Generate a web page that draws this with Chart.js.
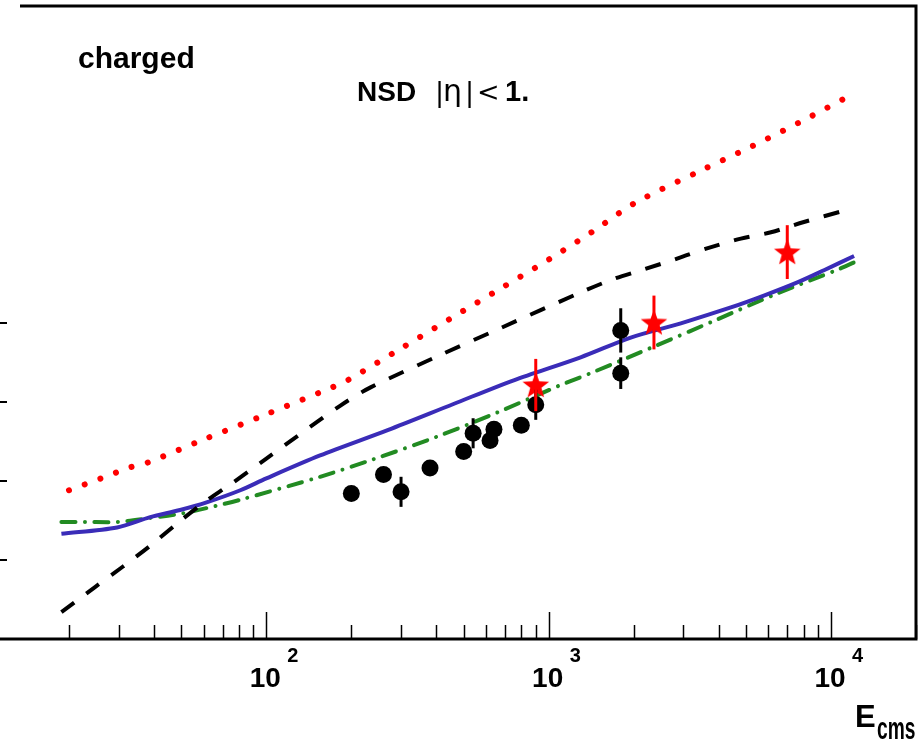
<!DOCTYPE html>
<html>
<head>
<meta charset="utf-8">
<script src="https://cdn.jsdelivr.net/npm/chart.js@4.4.1/dist/chart.umd.min.js"></script>
<style>
  html, body { margin: 0; padding: 0; background: #ffffff; overflow: hidden; }
  #wrap { position: relative; width: 923px; height: 747px; overflow: hidden; }
  #id-mult-chart { position: absolute; left: -40px; top: 0; }
</style>
</head>
<body>
<div id="wrap"><canvas id="id-mult-chart" width="963" height="747"></canvas></div>
<script>
//#region [Data: dN/deta of charged particles vs. centre-of-mass energy.]
// measured points (black circles)
const meas_energy = [200, 260, 300, 380, 500, 540, 620, 640, 800, 900, 1800, 1800];
const meas_mult   = [2.84, 3.08, 2.86, 3.16, 3.37, 3.60, 3.51, 3.65, 3.70, 3.96, 4.90, 4.36];
const meas_err    = [0, 0, 0.19, 0, 0, 0.19, 0, 0, 0, 0.19, 0.28, 0.20];

// LHC points (red stars)
const lhc_energy = [900, 2360, 7000];
const lhc_mult   = [4.21, 5.00, 5.89];
const lhc_err    = [0.33, 0.34, 0.34];

// model curves
const dotted_energy = [20, 26, 33, 38, 58, 100, 171, 194, 299, 449, 676, 1016, 1432, 2019, 3458, 5200, 7834, 11300];
const dotted_mult   = [2.88, 3.03, 3.17, 3.23, 3.50, 3.84, 4.18, 4.27, 4.67, 5.05, 5.43, 5.81, 6.15, 6.51, 6.92, 7.22, 7.54, 7.84];

const dashed_energy = [18.8, 24.8, 30.9, 38.5, 48.3, 59.8, 75.7, 100, 183, 234, 414, 676, 1298, 1698, 2171, 2866, 3662, 4796, 6127, 8017, 11300];
const dashed_mult   = [1.34, 1.66, 1.91, 2.17, 2.46, 2.72, 2.97, 3.28, 3.95, 4.18, 4.59, 4.93, 5.38, 5.55, 5.67, 5.81, 5.94, 6.06, 6.14, 6.27, 6.42];

const solid_energy = [18.8, 29.6, 38.8, 49.5, 61.8, 80.9, 100, 155, 269, 460, 752, 1298, 1953, 2938, 4419, 5784, 7636, 9442, 12070];
const solid_mult   = [2.33, 2.41, 2.54, 2.63, 2.73, 2.88, 3.03, 3.32, 3.64, 3.97, 4.27, 4.56, 4.81, 4.99, 5.19, 5.34, 5.51, 5.66, 5.84];

const dashdot_energy = [18.8, 22.9, 29.8, 38.8, 50.8, 65.9, 80.9, 155, 239, 404, 665, 1104, 1409, 2339, 3846, 6383, 10590, 12070];
const dashdot_mult   = [2.48, 2.48, 2.48, 2.53, 2.59, 2.68, 2.76, 3.05, 3.27, 3.56, 3.87, 4.21, 4.36, 4.69, 5.02, 5.36, 5.67, 5.76];

// axis ticks
const x_major_ticks = [100, 1000, 10000];
const y_ticks = [2, 3, 4, 5];
//#endregion

const CANVAS_SHIFT = 40;  // canvas starts 40px left of the page

function ToPoints(xs, ys)
{
  return xs.map((x, i) => ({ x: x, y: ys[i] }));
}

function MakeStar(radius, color)
{
  const c = document.createElement('canvas');
  const size = Math.ceil(radius * 2) + 2;
  c.width = size;
  c.height = size;
  const g = c.getContext('2d');
  g.fillStyle = color;
  g.beginPath();
  for (let i = 0; i < 10; i++)
  {
    const r = (i % 2 === 0) ? radius : radius * 0.42;
    const a = -Math.PI / 2 + i * Math.PI / 5;
    const x = size / 2 + r * Math.cos(a);
    const y = size / 2 + r * Math.sin(a) + 1;
    if (i === 0) g.moveTo(x, y); else g.lineTo(x, y);
  }
  g.closePath();
  g.fill();
  return c;
}

// frame, inner ticks, error bars and texts
const frame_plugin =
{
  id: 'frame_plugin',
  afterDatasetsDraw(chart)
  {
    const ctx = chart.ctx;
    const xs = chart.scales.x;
    const ys = chart.scales.y;

    ctx.save();
    ctx.lineWidth = 3;
    ctx.strokeStyle = '#000000';
    meas_energy.forEach((e, i) =>
    {
      if (!meas_err[i]) return;
      const px = xs.getPixelForValue(e);
      ctx.beginPath();
      ctx.moveTo(px, ys.getPixelForValue(meas_mult[i] - meas_err[i]));
      ctx.lineTo(px, ys.getPixelForValue(meas_mult[i] + meas_err[i]));
      ctx.stroke();
    });
    ctx.strokeStyle = '#ff0000';
    lhc_energy.forEach((e, i) =>
    {
      const px = xs.getPixelForValue(e);
      ctx.beginPath();
      ctx.moveTo(px, ys.getPixelForValue(lhc_mult[i] - lhc_err[i]));
      ctx.lineTo(px, ys.getPixelForValue(lhc_mult[i] + lhc_err[i]));
      ctx.stroke();
    });
    ctx.restore();
  },
  afterDraw(chart)
  {
    const ctx = chart.ctx;
    const area = chart.chartArea;
    const xs = chart.scales.x;
    const ys = chart.scales.y;

    ctx.save();
    ctx.strokeStyle = '#000000';

    // frame
    ctx.lineWidth = 3;
    ctx.beginPath();
    ctx.moveTo(20 + CANVAS_SHIFT, area.top);
    ctx.lineTo(area.right, area.top);
    ctx.lineTo(area.right, area.bottom);
    ctx.lineTo(area.left, area.bottom);
    ctx.stroke();

    // x ticks (log decades, pointing inward)
    ctx.lineWidth = 1.5;
    for (let dec = 10; dec <= 10000; dec *= 10)
    {
      for (let k = 1; k <= 9; k++)
      {
        const v = dec * k;
        if (v <= xs.min || v > xs.max) continue;
        const px = Math.round(xs.getPixelForValue(v)) + 0.5;
        const len = (k === 1) ? 27 : 14;
        ctx.beginPath();
        ctx.moveTo(px, area.bottom);
        ctx.lineTo(px, area.bottom - len);
        ctx.stroke();
      }
    }

    // y ticks
    ctx.lineWidth = 2;
    y_ticks.forEach(v =>
    {
      const py = Math.round(ys.getPixelForValue(v));
      ctx.beginPath();
      ctx.moveTo(area.left, py);
      ctx.lineTo(area.left + 23, py);
      ctx.stroke();
    });

    // x tick labels 10^n
    ctx.fillStyle = '#000000';
    ctx.textBaseline = 'alphabetic';
    x_major_ticks.forEach(v =>
    {
      const px = xs.getPixelForValue(v);
      ctx.font = 'bold 28px "Liberation Sans", Arial, sans-serif';
      ctx.textAlign = 'center';
      ctx.fillText('10', px - 1, 687);
      ctx.font = 'bold 20px "Liberation Sans", Arial, sans-serif';
      ctx.textAlign = 'left';
      ctx.fillText(String(Math.round(Math.log10(v))), px + 21, 662);
    });

    // axis title
    ctx.textAlign = 'left';
    ctx.font = 'bold 31px "Liberation Sans", Arial, sans-serif';
    ctx.fillText('E', 855 + CANVAS_SHIFT, 727);
    ctx.save();
    ctx.translate(877 + CANVAS_SHIFT, 739);
    ctx.scale(0.6, 1);
    ctx.font = 'bold 32px "Liberation Sans", Arial, sans-serif';
    ctx.fillText('cms', 0, 0);
    ctx.restore();

    // captions
    ctx.font = 'bold 30px "Liberation Sans", Arial, sans-serif';
    ctx.fillText('charged', 78 + CANVAS_SHIFT, 68);
    ctx.font = 'bold 28px "Liberation Sans", Arial, sans-serif';
    ctx.fillText('NSD', 357 + CANVAS_SHIFT, 101);
    ctx.font = '27px "DejaVu Sans", sans-serif';
    ctx.fillText('|', 435 + CANVAS_SHIFT, 101);
    ctx.font = '30px "DejaVu Sans", sans-serif';
    ctx.fillText('\u03B7', 443 + CANVAS_SHIFT, 101);
    ctx.font = '27px "DejaVu Sans", sans-serif';
    ctx.fillText('|', 465 + CANVAS_SHIFT, 101);
    ctx.fillText('<', 477 + CANVAS_SHIFT, 101);
    ctx.font = 'bold 29px "Liberation Sans", Arial, sans-serif';
    ctx.fillText('1.', 505 + CANVAS_SHIFT, 101);

    ctx.restore();
  }
};

function DrawChart()
{
  const star_img = MakeStar(14, '#ff0000');

  const chart_data =
  {
    datasets:
    [
      {
        label: 'measured',
        data: ToPoints(meas_energy, meas_mult),
        showLine: false,
        pointStyle: 'circle',
        pointRadius: 8.5,
        pointBorderWidth: 0,
        pointBackgroundColor: '#000000',
        pointBorderColor: '#000000'
      },
      {
        label: 'LHC',
        data: ToPoints(lhc_energy, lhc_mult),
        showLine: false,
        pointStyle: star_img,
        pointRadius: 14,
        pointBorderWidth: 0
      },
      {
        label: 'model dotted',
        data: ToPoints(dotted_energy, dotted_mult),
        showLine: true,
        borderColor: '#ff0000',
        borderWidth: 6,
        borderDash: [0.01, 16.7],
        borderCapStyle: 'round',
        pointRadius: 0,
        tension: 0.3
      },
      {
        label: 'model dashed',
        data: ToPoints(dashed_energy, dashed_mult),
        showLine: true,
        borderColor: '#000000',
        borderWidth: 4,
        borderDash: [16, 15],
        borderCapStyle: 'butt',
        pointRadius: 0,
        tension: 0.3
      },
      {
        label: 'model solid',
        data: ToPoints(solid_energy, solid_mult),
        showLine: true,
        borderColor: '#3a2cb8',
        borderWidth: 4,
        pointRadius: 0,
        tension: 0.3
      },
      {
        label: 'model dash-dot',
        data: ToPoints(dashdot_energy, dashdot_mult),
        showLine: true,
        borderColor: '#228b22',
        borderWidth: 4,
        borderDash: [14, 9.5, 0.01, 9.5],
        borderCapStyle: 'round',
        pointRadius: 0,
        tension: 0.3
      }
    ]
  };

  const config =
  {
    type: 'scatter',
    data: chart_data,
    options:
    {
      responsive: false,
      devicePixelRatio: 1,
      animation: false,
      layout: { autoPadding: false, padding: { left: 24, right: 7, top: 6, bottom: 108 } },
      scales:
      {
        x: { type: 'logarithmic', min: 10, max: 20000, display: false },
        y: { type: 'linear', min: 1, max: 9, display: false }
      },
      plugins:
      {
        legend: { display: false },
        tooltip: { enabled: false }
      }
    },
    plugins: [frame_plugin]
  };

  const ctx = document.getElementById('id-mult-chart').getContext('2d');
  new Chart(ctx, config);
}

DrawChart();
</script>
</body>
</html>
